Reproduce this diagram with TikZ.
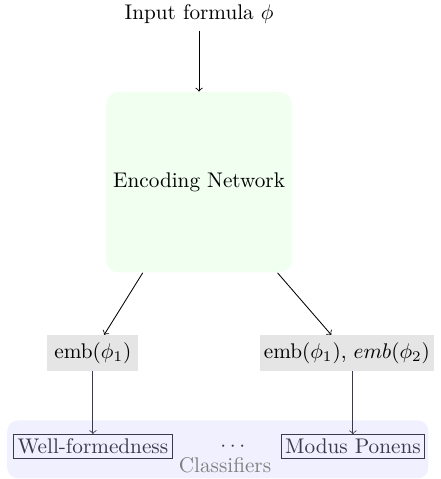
\documentclass[tikz,border=0pt]{standalone}
\usepackage{xcolor}
\usetikzlibrary{arrows}
\usetikzlibrary{math}
\definecolor{clsink}{RGB}{58,58,78}

\begin{document}
\begin{tikzpicture}[scale=1,
  emb/.style={fill=gray!20},
  cls/.style={draw=clsink,text=clsink,inner sep=2pt}]
\tikzmath{
\W=7.30;
\H=7.94;
\xl=1.54;
\xr=5.75;
}
\useasboundingbox (0,0) rectangle (\W,-\H);

% classifier backdrop
\fill[blue!6,rounded corners=5pt] (0.12,-6.97) rectangle (7.10,-7.93);
\node[gray] (clslabel) at (3.73,-7.71) {Classifiers};

\node (input) at (3.30,-0.23) {Input formula $\phi$};
\node[fill=green!6,rounded corners=6pt,minimum width=3.08cm,minimum height=2.99cm] (enc) at (3.30,-3.02) {Encoding Network};

\node[emb] (emb1) at (\xl,-5.85) {emb($\phi_1$)};
\node[emb,inner xsep=2pt] (emb2) at (\xr,-5.85) {emb($\phi_1$),\ $emb(\phi_2)$};

\node[cls] (wf) at (\xl,-7.40) {Well-formedness};
\node[text=clsink] (dots) at (3.86,-7.40) {$\cdots$};
\node[cls] (mp) at (5.85,-7.40) {Modus Ponens};

\draw[->] (input) -- (enc);
\draw[->] (enc) -- (emb1);
\draw[->] (enc) -- (emb2);
\draw[->,clsink] (emb1) -- (wf);
\draw[->,clsink] (mp |- emb2.south) -- (mp);
\end{tikzpicture}
\end{document}
